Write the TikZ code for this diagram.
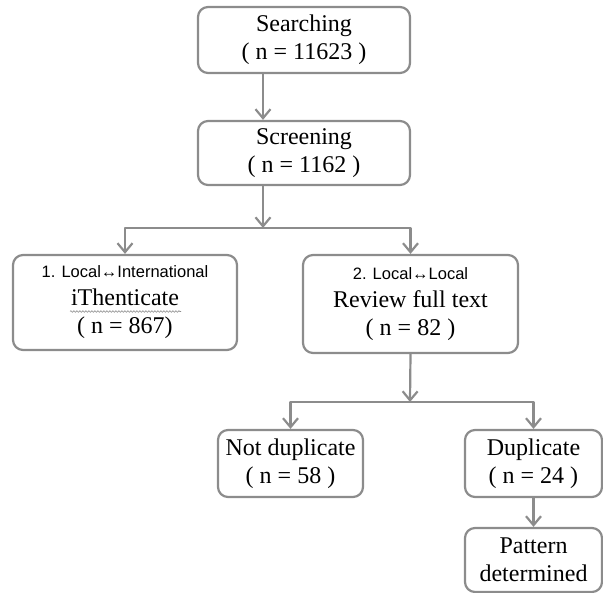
\documentclass[tikz,border=0pt]{standalone}
\usepackage{fontspec}
\setmainfont{Liberation Serif}
\setsansfont{Liberation Sans}
\usetikzlibrary{arrows.meta,decorations.pathmorphing}
\definecolor{linegray}{RGB}{140,140,140}
\tikzset{
  box/.style={draw=linegray,line width=2.2pt,rounded corners=10pt,fill=white,
    align=center,inner sep=0pt,font=\fontsize{24}{28}\selectfont},
  arr/.style={->,draw=linegray,line width=2.2pt},
  tag/.style={font=\sffamily\fontsize{17}{20}\selectfont}
}
\begin{document}
\begin{tikzpicture}[x=1pt,y=-1pt,>={Straight Barb[length=9pt,width=15pt]},line join=round]
\useasboundingbox (0,0) rectangle (603,593);
% boxes
\node[box,minimum width=212,minimum height=66] (search) at (304,40) {Searching\\( n = 11623 )};
\node[box,minimum width=212,minimum height=64] (screen) at (304,153) {Screening\\( n = 1162 )};
\node[box,minimum width=224,minimum height=95] (ithent) at (125,302.5)
  {{\sffamily\fontsize{16.5}{20}\selectfont 1. Local↔International}\\iThenticate\\( n = 867)};
\node[box,minimum width=215,minimum height=98] (review) at (410.5,304)
  {{\sffamily\fontsize{16.5}{20}\selectfont 2. Local↔Local}\\Review full text\\( n = 82 )};
\node[box,minimum width=145,minimum height=67] (notdup) at (290.5,463.5) {Not duplicate\\( n = 58 )};
\node[box,minimum width=137,minimum height=67] (dup) at (533.5,463.5) {Duplicate\\( n = 24 )};
\node[box,minimum width=137,minimum height=64] (pattern) at (533.5,560) {Pattern\\determined};
% spell-check squiggle
\draw[linegray,line width=0.6pt,decorate,decoration={snake,amplitude=0.8pt,segment length=3pt}]
  ([xshift=-55pt,yshift=-9pt]ithent.center) -- ([xshift=56pt,yshift=-9pt]ithent.center);
% connectors
\coordinate (fork1) at (263,228);
\coordinate (fork2) at (410,402);
\draw[arr] (search.south -| fork1) -- (screen.north -| fork1);
\draw[arr] (screen.south -| fork1) -- (fork1);
\draw[arr] (fork1) -| (ithent.north);
\draw[arr] (fork1) -| (review.north);
\draw[arr] (review.south) -- (fork2);
\draw[arr] (fork2) -| (notdup.north);
\draw[arr] (fork2) -| (dup.north);
\draw[arr] (dup.south) -- (pattern.north);
\end{tikzpicture}
\end{document}
